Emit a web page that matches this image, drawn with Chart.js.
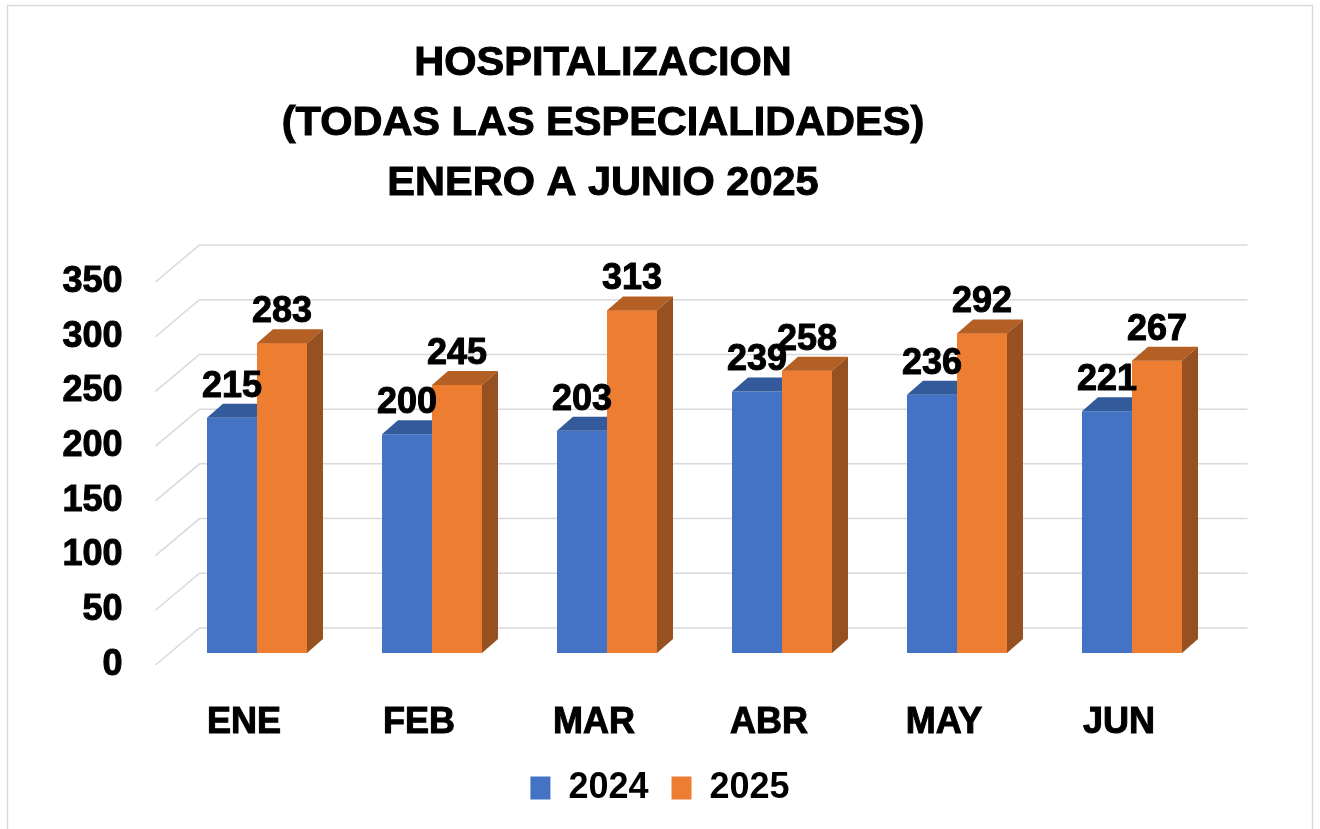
<!DOCTYPE html>
<html>
<head>
<meta charset="utf-8">
<script src="https://cdn.jsdelivr.net/npm/chart.js@4.4.1/dist/chart.umd.min.js"></script>
<style>
  html, body { margin: 0; padding: 0; background: #fff; }
  #wrap { width: 1320px; height: 829px; }
</style>
</head>
<body>
<div id="wrap"><canvas id="myChart" width="1320" height="829"></canvas></div>
<script>
// datos
const meses = ['ENE', 'FEB', 'MAR', 'ABR', 'MAY', 'JUN'];
const v2024 = [215, 200, 203, 239, 236, 221];
const v2025 = [283, 245, 313, 258, 292, 267];
const series = ['2024', '2025'];
const titulo = ['HOSPITALIZACION', '(TODAS LAS ESPECIALIDADES)', 'ENERO A JUNIO 2025'];

const FONT = '"Liberation Sans", Arial, sans-serif';
const caras = [
  { top: '#335A9A', side: '#2F528F' },
  { top: '#B45F24', side: '#97501F' }
];
const D = { dx: 16, dy: -14 };      // profundidad de la barra
const back = { dx: 30, dy: -25 };   // pared del fondo
const front = { dx: -14, dy: 12 };  // borde delantero del piso

// marco, titulo y rejilla 3D
const fondo = {
  id: 'fondo',
  beforeDraw(chart) {
    const ctx = chart.ctx;
    ctx.save();
    ctx.fillStyle = '#fff';
    ctx.fillRect(0, 0, chart.width, chart.height);
    ctx.strokeStyle = '#d9d9d9';
    ctx.lineWidth = 1.5;
    ctx.strokeRect(7.5, 5.5, 1305, 900);

    ctx.fillStyle = '#000';
    ctx.strokeStyle = '#000';
    ctx.lineWidth = 1;
    ctx.font = 'bold 41.5px ' + FONT;
    ctx.textAlign = 'center';
    ctx.textBaseline = 'alphabetic';
    titulo.forEach((t, i) => {
      ctx.fillText(t, 603, 75 + i * 60);
      ctx.strokeText(t, 603, 75 + i * 60);
    });
    ctx.restore();
  },
  beforeDatasetsDraw(chart) {
    const ctx = chart.ctx;
    const y = chart.scales.y;
    const a = chart.chartArea;
    ctx.save();
    ctx.strokeStyle = '#d9d9d9';
    ctx.lineWidth = 1.5;
    y.ticks.forEach(t => {
      const py = y.getPixelForValue(t.value);
      ctx.beginPath();
      ctx.moveTo(a.left + front.dx, py + front.dy);
      ctx.lineTo(a.left + back.dx, py + back.dy);
      ctx.lineTo(a.right + back.dx - 2, py + back.dy);
      ctx.stroke();
    });
    ctx.restore();
  },
  afterDatasetsDraw(chart) {
    const ctx = chart.ctx;
    ctx.save();
    chart.data.datasets.forEach((ds, di) => {
      const meta = chart.getDatasetMeta(di);
      meta.data.forEach(bar => {
        if (di > 0) bar.draw(ctx);
        const p = bar.getProps(['x', 'y', 'base', 'width'], true);
        const l = p.x - p.width / 2, r = p.x + p.width / 2;
        ctx.fillStyle = caras[di].top;
        ctx.beginPath();
        ctx.moveTo(l, p.y);
        ctx.lineTo(l + D.dx, p.y + D.dy);
        ctx.lineTo(r + D.dx, p.y + D.dy);
        ctx.lineTo(r, p.y);
        ctx.closePath();
        ctx.fill();
        ctx.fillStyle = caras[di].side;
        ctx.beginPath();
        ctx.moveTo(r, p.y);
        ctx.lineTo(r + D.dx, p.y + D.dy);
        ctx.lineTo(r + D.dx, p.base + D.dy);
        ctx.lineTo(r, p.base);
        ctx.closePath();
        ctx.fill();
      });
    });
    // etiquetas de datos
    ctx.fillStyle = '#000';
    ctx.strokeStyle = '#000';
    ctx.lineWidth = 1;
    ctx.font = 'bold 36px ' + FONT;
    ctx.textAlign = 'center';
    ctx.textBaseline = 'alphabetic';
    chart.data.datasets.forEach((ds, di) => {
      chart.getDatasetMeta(di).data.forEach((bar, i) => {
        ctx.fillText(ds.data[i], bar.x, bar.y - 21);
        ctx.strokeText(ds.data[i], bar.x, bar.y - 21);
      });
    });
    ctx.restore();
  }
};

new Chart(document.getElementById('myChart'), {
  type: 'bar',
  data: {
    labels: meses,
    datasets: [
      { label: series[0], data: v2024, backgroundColor: '#4472C4' },
      { label: series[1], data: v2025, backgroundColor: '#ED7D31' }
    ]
  },
  options: {
    responsive: false,
    animation: false,
    devicePixelRatio: 1,
    categoryPercentage: 100 / 175,
    barPercentage: 1,
    layout: { padding: { top: 270, left: 0, right: 0, bottom: 13 } },
    plugins: {
      title: { display: false },
      tooltip: { enabled: false },
      legend: {
        position: 'bottom',
        labels: {
          color: '#000',
          font: { family: FONT, size: 36, weight: 'bold' },
          boxWidth: 20,
          boxHeight: 23,
          padding: 23
        }
      }
    },
    scales: {
      x: {
        grid: { display: false },
        border: { display: false },
        ticks: {
          color: '#000',
          textStrokeColor: '#000',
          textStrokeWidth: 1,
          font: { family: FONT, size: 36, weight: 'bold' },
          padding: 40,
          labelOffset: -13
        },
        afterFit(s) { s.height = 94; }
      },
      y: {
        min: 0,
        max: 350,
        grid: { display: false, drawTicks: false },
        border: { display: false },
        ticks: {
          stepSize: 50,
          color: '#000',
          textStrokeColor: '#000',
          textStrokeWidth: 1,
          font: { family: FONT, size: 36, weight: 'bold' },
          padding: 47,
          labelOffset: 12
        },
        afterFit(s) { s.width = 169.5; }
      },
      // eje vacio a la derecha, solo reserva espacio
      yR: {
        position: 'right',
        grid: { display: false, drawTicks: false },
        border: { display: false },
        ticks: { display: false },
        afterFit(s) { s.width = 100.5; }
      }
    }
  },
  plugins: [fondo]
});
</script>
</body>
</html>
